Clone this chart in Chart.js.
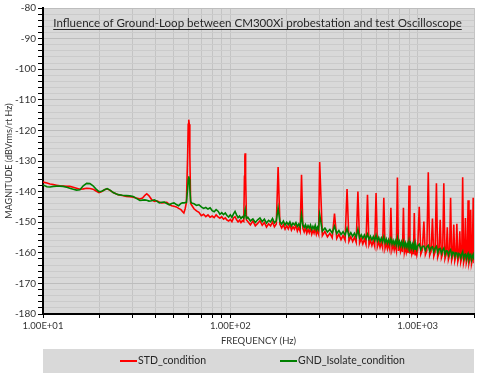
<!DOCTYPE html>
<html>
<head>
<meta charset="utf-8">
<script src="https://cdn.jsdelivr.net/npm/chart.js@4.4.1/dist/chart.umd.min.js"></script>
<style>
html,body{margin:0;padding:0;background:#fff;}
canvas{display:block;}
</style>
</head>
<body>
<canvas id="c" width="480" height="376"></canvas>
<script>
// ---------- DATA ----------
const seriesNames = ['STD_condition', 'GND_Isolate_condition'];
const chartTitle = 'Influence of Ground-Loop between CM300Xi probestation and test Oscilloscope';
const xTitle = 'FREQUENCY (Hz)';
const yTitle = 'MAGNITUDE (dBVrms/rt Hz)';
const xTickValues = [10, 100, 1000];
const xTickLabels = ['1.00E+01', '1.00E+02', '1.00E+03'];
const xGridValues = [10,20,30,40,50,60,70,80,90,100,200,300,400,500,600,700,800,900,1000,2000];
const yMajorTicks = [-180,-170,-160,-150,-140,-130,-120,-110,-100,-90,-80];

// band 1: 10 - 122 Hz
const freqLow = [10,10.5,10.9,11.35,11.8,12.3,12.8,13.4,13.9,14.5,
  15.1,15.75,16.4,17.1,17.8,18.5,19.2,19.9,20.6,21.3,
  22,22.8,23.7,24.5,25.2,26.5,27.9,29.1,30.3,31.5,
  32.9,34,35,35.8,36.8,38,39.3,40.5,41.8,43,
  44.4,45.8,47.2,48.6,50,51.5,53,54.5,55.5,56.5,
  57.4,58.3,59.2,59.6,60,60.4,60.8,61.4,
  62,64,66,68,70,72,74,76,78,80,82,84,86,88,90,92,94,96,98,100,102,104,106,108,110,112,114,116,118,
  119,119.6,120,120.4,121,122];
const redLow = [-136.9,-137.2,-137.5,-137.7,-137.9,-138.1,-138.2,-138.3,-138.3,-138.6,
  -138.9,-139.2,-139.1,-138.9,-139.0,-139.2,-139.8,-140.3,-140.0,-139.4,
  -139.1,-139.6,-140.3,-140.7,-141.0,-141.3,-141.6,-141.7,-141.8,-142.1,
  -142.4,-142.1,-141.2,-140.7,-141.4,-142.6,-143.2,-143.0,-143.4,-143.7,
  -143.6,-143.5,-144.2,-144.6,-144.8,-145.0,-145.5,-145.9,-146.5,-147.0,
  -145.6,-143.5,-128,-118,-116.5,-118,-128,-143.8,
  -144.3,-145.6,-146.3,-146.8,-147.9,-147.4,-148.2,-147.6,-148.4,-148.0,-148.5,-147.6,-148.3,-148.7,-148.2,-149.0,-148.6,-149.3,-149.6,-149.1,-149.8,-148.6,-148.2,-149.2,-149.9,-149.3,-150.1,-149.5,-149.8,
  -135,-128.5,-127.5,-128.5,-135,-149.3];
const greenLow = [-137.8,-138.4,-138.5,-138.3,-138.2,-138.2,-138.3,-138.6,-138.9,-139.2,
  -139.5,-139.4,-138.1,-137.3,-137.4,-138.1,-139.2,-140.0,-139.9,-139.4,
  -139.0,-139.5,-140.3,-140.7,-141.0,-141.2,-141.3,-141.4,-141.6,-142.2,
  -142.9,-142.8,-142.7,-142.8,-143.1,-143.0,-142.7,-143.1,-143.7,-143.5,
  -143.4,-143.9,-144.3,-143.9,-143.7,-144.2,-144.6,-143.9,-143.7,-143.7,
  -143.6,-143.5,-139,-136,-135,-136,-139,-143.2,
  -143.7,-144.0,-144.5,-144.3,-145.0,-145.5,-145.2,-145.7,-145.3,-146.2,-146.6,-145.9,-146.4,-147.4,-146.9,-147.5,-147.0,-147.8,-148.3,-147.6,-148.4,-147.3,-146.5,-147.6,-148.5,-148.0,-148.8,-148.2,-148.6,
  -147.5,-146.3,-145.9,-146.3,-147.5,-148.8];

// band 2: 124 - 300 Hz
const freqMid = [124,128,132,136,140,144,148,152,156,160,164,168,172,176,180,184,188,192,196,200,
  204,208,212,216,220,224,228,232,236,240,244,248,252,256,260,264,268,272,276,280,284,288,292,296,300];
const redMid = [-149.8,-150.9,-149.6,-151.2,-150.4,-149.5,-151.0,-150.1,-151.6,-150.5,-151.2,-149.9,-151.5,-150.6,-132.0,-150.7,-151.9,-150.8,-152.3,-151.1,
  -152.2,-150.8,-152.6,-151.5,-152.3,-151.0,-152.9,-151.7,-153.0,-134.5,-152.0,-153.2,-151.9,-153.6,-152.3,-153.4,-152.0,-153.9,-152.6,-153.6,-152.1,-154.0,-152.8,-153.9,-130.3];
const greenMid = [-148.4,-149.6,-148.9,-150.1,-149.2,-148.6,-149.8,-149.0,-150.3,-149.4,-149.9,-148.8,-150.2,-149.5,-145.4,-149.8,-150.6,-149.6,-150.9,-150.0,
  -150.8,-149.9,-151.2,-150.3,-150.9,-150.1,-151.4,-150.6,-151.6,-147.5,-150.9,-151.7,-150.8,-152.0,-151.1,-151.9,-150.9,-152.3,-151.4,-152.2,-151.0,-152.5,-151.6,-152.4,-147.5];

// band 3: 310 - 1000 Hz
const freqHigh = [310,320,330,340,350,360,370,380,390,400,410,420,430,440,450,460,470,480,490,500,
  510,520,530,540,550,560,570,580,590,600,610,620,630,640,650,660,670,680,690,700,
  710,720,730,740,750,760,770,780,790,800,810,820,830,840,850,860,870,880,890,900,
  910,920,930,940,950,960,970,980,990,1000];
const redHigh = [-154.4,-153.0,-154.8,-153.6,-155.1,-147.2,-155.3,-153.9,-155.7,-154.3,-155.9,-139.2,-156.2,-154.7,-156.3,-154.9,-156.6,-140.0,-156.8,-155.3,
  -157.1,-155.5,-157.2,-141.0,-157.4,-155.9,-157.6,-156.0,-157.8,-140.5,-157.9,-156.3,-158.2,-156.5,-158.3,-142.0,-158.5,-156.8,-158.7,-157.0,
  -158.8,-145.3,-158.9,-157.3,-159.1,-157.4,-159.2,-135.4,-159.4,-157.6,-159.5,-157.8,-159.7,-145.3,-159.8,-158.1,-159.9,-158.3,-160.1,-138.0,
  -160.2,-158.5,-160.3,-158.6,-160.5,-147.0,-160.6,-158.9,-160.7,-159.1];
const greenHigh = [-152.9,-151.9,-153.2,-152.4,-153.5,-151.3,-153.7,-152.7,-154.0,-153.1,-154.2,-152.0,-154.5,-153.4,-154.6,-153.6,-154.9,-152.3,-155.1,-154.1,
  -155.3,-154.2,-155.4,-153.9,-155.6,-154.6,-155.8,-154.7,-156.0,-154.3,-156.1,-155.0,-156.4,-155.2,-156.5,-154.8,-156.7,-155.5,-156.9,-155.7,
  -157.0,-155.5,-157.1,-156.0,-157.3,-156.1,-157.4,-155.2,-157.6,-156.3,-157.7,-156.5,-157.9,-156.4,-158.0,-156.8,-158.1,-157.0,-158.3,-156.2,
  -158.4,-157.2,-158.5,-157.3,-158.7,-157.0,-158.8,-157.6,-158.9,-157.8];

// band 4: 1020 - 2000 Hz
const freqTop = [1020,1040,1060,1080,1100,1120,1140,1160,1180,1200,1220,1240,1260,1280,1300,1320,1340,1360,1380,1400,
  1420,1440,1460,1480,1500,1520,1540,1560,1580,1600,1620,1640,1660,1680,1700,1720,1740,1760,1780,1800,
  1820,1840,1860,1880,1900,1920,1940,1960,1980,2000];
const redTop = [-145.0,-160.4,-159.0,-149.8,-160.6,-159.3,-133.7,-160.8,-159.5,-148.8,-161.1,-159.7,-137.3,-161.4,-160.0,-149.2,-161.6,-160.3,-137.3,-161.9,
  -160.5,-151.7,-162.2,-160.8,-142.0,-162.4,-161.0,-150.8,-162.6,-161.2,-150.5,-162.8,-161.4,-153.0,-163.0,-161.6,-135.3,-163.2,-161.8,-148.6,
  -163.3,-162.0,-142.8,-163.5,-162.2,-145.9,-163.6,-162.3,-142.0,-163.4];
const greenTop = [-157.2,-159.0,-157.9,-157.8,-159.2,-158.1,-157.6,-159.4,-158.3,-158.0,-159.7,-158.5,-157.9,-160.0,-158.8,-158.6,-160.2,-159.1,-158.5,-160.5,
  -159.3,-159.4,-160.8,-159.6,-159.0,-161.0,-159.8,-159.9,-161.2,-160.0,-160.1,-161.4,-160.2,-160.5,-161.6,-160.4,-159.6,-161.8,-160.6,-160.4,
  -162.0,-160.8,-160.2,-162.1,-161.0,-160.6,-162.3,-161.1,-160.5,-162.2];

// ---------- BUILD ----------
const freq = freqLow.concat(freqMid, freqHigh, freqTop);
const red = redLow.concat(redMid, redHigh, redTop);
const green = greenLow.concat(greenMid, greenHigh, greenTop);
const toPts = (ys) => freq.map((f, i) => ({x: f, y: ys[i]}));

const FONT = 'Lato, "Open Sans", sans-serif';
const TXT = '#333333';

const bgPlugin = {
  id: 'bg',
  beforeDraw(chart) {
    const {ctx, chartArea: a} = chart;
    ctx.save();
    ctx.fillStyle = '#ffffff';
    ctx.fillRect(0, 0, chart.width, chart.height);
    ctx.fillStyle = '#d9d9d9';
    ctx.fillRect(a.left, a.top, a.right - a.left, a.bottom - a.top);
    ctx.restore();
  }
};

const decoPlugin = {
  id: 'deco',
  afterDraw(chart) {
    const {ctx, chartArea: a} = chart;
    ctx.save();
    // title inside plot, underlined
    let size = 13;
    ctx.font = size + 'px ' + FONT;
    let w = ctx.measureText(chartTitle).width;
    size = size * 409 / w;
    ctx.font = size + 'px ' + FONT;
    w = ctx.measureText(chartTitle).width;
    const cx = 257.5;
    ctx.fillStyle = '#262626';
    ctx.textAlign = 'center';
    ctx.textBaseline = 'alphabetic';
    ctx.fillText(chartTitle, cx, 27);
    ctx.fillRect(cx - w / 2, 29, w, 1);

    // legend box
    const top = a.bottom + 35;
    ctx.fillStyle = '#d9d9d9';
    ctx.fillRect(a.left, top, a.right - a.left, 24);
    const ly = top + 12;
    ctx.font = '10.5px ' + FONT;
    ctx.textAlign = 'left';
    ctx.textBaseline = 'middle';
    const items = [{x: 120, c: '#ff0000'}, {x: 280, c: '#008000'}];
    items.forEach((it, i) => {
      ctx.strokeStyle = it.c;
      ctx.lineWidth = 2;
      ctx.beginPath();
      ctx.moveTo(it.x, ly);
      ctx.lineTo(it.x + 17, ly);
      ctx.stroke();
      ctx.fillStyle = '#262626';
      ctx.fillText(seriesNames[i], it.x + 18, ly);
    });
    ctx.restore();
  }
};

new Chart(document.getElementById('c'), {
  type: 'line',
  data: {
    datasets: [
      {label: seriesNames[0], data: toPts(red), borderColor: '#ff0000', borderWidth: 1.6, pointRadius: 0, tension: 0, order: 2},
      {label: seriesNames[1], data: toPts(green), borderColor: '#008000', borderWidth: 1.6, pointRadius: 0, tension: 0, order: 1}
    ]
  },
  options: {
    responsive: false,
    animation: false,
    devicePixelRatio: 1,
    layout: {padding: {top: 7, right: 6, bottom: 27, left: 0}},
    plugins: {legend: {display: false}, tooltip: {enabled: false}},
    scales: {
      x: {
        type: 'logarithmic',
        min: 10,
        max: 2000,
        afterBuildTicks(scale) { scale.ticks = xGridValues.map(v => ({value: v, major: xTickValues.includes(v)})); },
        afterFit(scale) { scale.height = 35; },
        ticks: {
          autoSkip: false, maxRotation: 0, padding: 2,
          color: TXT, font: {family: FONT, size: 9.5},
          callback(v) { const i = xTickValues.indexOf(v); return i >= 0 ? xTickLabels[i] : ''; }
        },
        grid: {color: '#c4c4c4', lineWidth: 1, tickLength: 4, tickColor: '#000'},
        border: {display: true, color: '#000', width: 2},
        title: {display: true, text: xTitle, color: TXT, font: {family: FONT, size: 9.5}, padding: {top: 0, bottom: 2}}
      },
      y: {
        min: -180,
        max: -80,
        afterFit(scale) { scale.width = 43; },
        ticks: {
          stepSize: 2, autoSkip: false, padding: 2,
          color: TXT, font: {family: FONT, size: 10},
          callback(v) { return yMajorTicks.includes(v) ? String(v) : ''; }
        },
        grid: {
          color: (c) => (c.tick && yMajorTicks.includes(c.tick.value)) ? '#bdbdbd' : '#cbcbcb',
          lineWidth: 1, tickLength: 5, tickColor: '#000'
        },
        border: {display: true, color: '#000', width: 2},
        title: {display: true, text: yTitle, color: TXT, font: {family: FONT, size: 9}, padding: {top: 4, bottom: 0}}
      }
    }
  },
  plugins: [bgPlugin, decoPlugin]
});
</script>
</body>
</html>
